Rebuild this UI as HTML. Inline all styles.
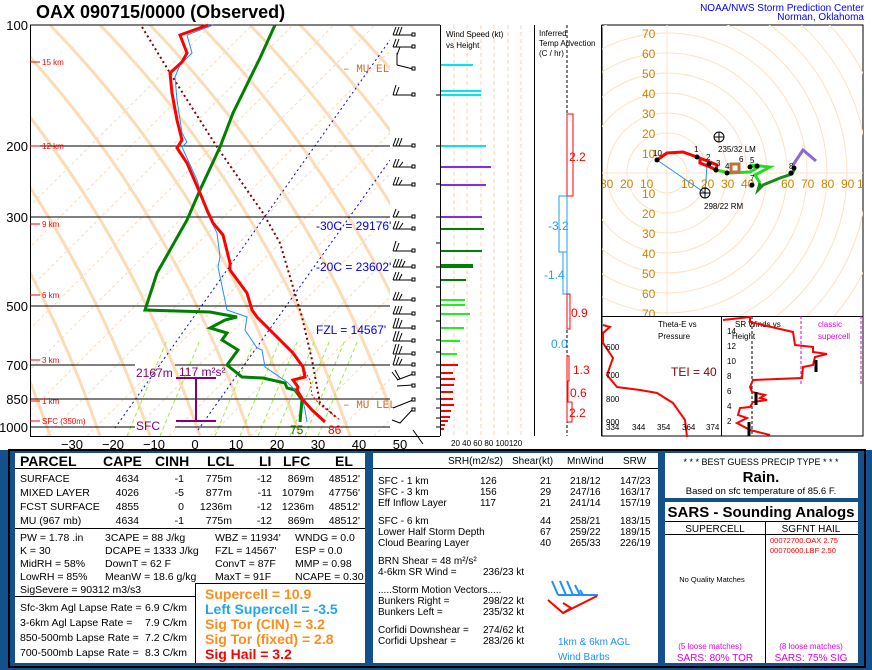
<!DOCTYPE html>
<html><head><meta charset="utf-8"><style>
body{margin:0;background:#fff;}
svg{display:block;font-family:"Liberation Sans",sans-serif;}
</style></head><body>
<svg width="872" height="670" viewBox="0 0 872 670" xmlns="http://www.w3.org/2000/svg">
<defs>
<clipPath id="skc"><rect x="30" y="25" width="360" height="411"/></clipPath>
<clipPath id="hoc"><rect x="602" y="25" width="261" height="291"/></clipPath>
</defs>
<rect width="872" height="670" fill="#fff"/>
<text x="36" y="18" font-size="18" font-weight="bold">OAX  090715/0000  (Observed)</text>
<text x="864" y="11" font-size="10" fill="#0000ff" text-anchor="end">NOAA/NWS Storm Prediction Center</text>
<text x="864" y="20" font-size="10" fill="#0000ff" text-anchor="end">Norman, Oklahoma</text>

<!-- skew-T -->
<g clip-path="url(#skc)">
<g stroke="#fcd9b0" stroke-width="3" fill="none" opacity="0.9">
<path d="M-250,25 Q-80,200 0,436"/><path d="M-200,25 Q-30,200 50,436"/><path d="M-150,25 Q20,200 100,436"/>
<path d="M-100,25 Q70,200 150,436"/><path d="M-50,25 Q120,200 200,436"/><path d="M0,25 Q170,200 250,436"/>
<path d="M50,25 Q220,200 300,436"/><path d="M100,25 Q270,200 350,436"/><path d="M150,25 Q320,200 400,436"/>
<path d="M200,25 Q370,200 450,436"/><path d="M250,25 Q420,200 500,436"/><path d="M300,25 Q470,200 550,436"/>
<path d="M350,25 Q520,200 600,436"/>
</g>
<g stroke="#fcd9b0" stroke-width="1" stroke-dasharray="3,3">
<line x1="-200" y1="436" x2="211" y2="25"/><line x1="-159" y1="436" x2="252" y2="25"/><line x1="-118" y1="436" x2="293" y2="25"/>
<line x1="-77" y1="436" x2="334" y2="25"/><line x1="-36" y1="436" x2="375" y2="25"/><line x1="5" y1="436" x2="416" y2="25"/>
<line x1="46" y1="436" x2="457" y2="25"/><line x1="87" y1="436" x2="498" y2="25"/><line x1="128" y1="436" x2="539" y2="25"/>
<line x1="169" y1="436" x2="580" y2="25"/><line x1="210" y1="436" x2="621" y2="25"/><line x1="251" y1="436" x2="662" y2="25"/>
<line x1="292" y1="436" x2="703" y2="25"/><line x1="333" y1="436" x2="744" y2="25"/><line x1="374" y1="436" x2="785" y2="25"/>
</g>
<g stroke="#99ee33" stroke-width="1" stroke-dasharray="4,3">
<line x1="127" y1="436" x2="167" y2="340"/><line x1="160" y1="436" x2="200" y2="340"/><line x1="215" y1="436" x2="255" y2="340"/>
<line x1="240" y1="436" x2="280" y2="340"/><line x1="258" y1="436" x2="298" y2="340"/><line x1="275" y1="436" x2="315" y2="340"/>
<line x1="290" y1="436" x2="330" y2="340"/><line x1="305" y1="436" x2="345" y2="340"/><line x1="318" y1="436" x2="358" y2="340"/>
</g>
<g stroke="#0000ee" stroke-width="1" stroke-dasharray="2,3">
<line x1="115" y1="428" x2="390" y2="40"/><line x1="198" y1="430" x2="390" y2="160"/>
</g>
</g>
<g stroke="#000" stroke-width="1">
<line x1="30" y1="25" x2="440" y2="25"/>
<line x1="30" y1="146" x2="390" y2="146"/><line x1="30" y1="217" x2="390" y2="217"/>
<line x1="30" y1="306" x2="390" y2="306"/><line x1="30" y1="365" x2="135" y2="365"/><line x1="175" y1="365" x2="390" y2="365"/>
<line x1="30" y1="399" x2="390" y2="399"/><line x1="30" y1="427" x2="135" y2="427"/><line x1="175" y1="427" x2="390" y2="427"/>
<line x1="30.5" y1="25" x2="30.5" y2="436"/><line x1="30" y1="436.5" x2="440" y2="436.5"/>
<line x1="440.5" y1="25" x2="440.5" y2="436"/>
</g>
<g font-size="13" text-anchor="end">
<text x="28" y="30">100</text><text x="28" y="151">200</text><text x="28" y="222">300</text><text x="28" y="311">500</text>
<text x="28" y="370">700</text><text x="28" y="404">850</text><text x="28" y="432">1000</text>
</g>
<g font-size="13" text-anchor="middle">
<text x="72" y="449">−30</text><text x="113" y="449">−20</text><text x="154" y="449">−10</text><text x="195" y="449">0</text>
<text x="236" y="449">10</text><text x="277" y="449">20</text><text x="318" y="449">30</text><text x="359" y="449">40</text><text x="400" y="449">50</text>
</g>
<g fill="#f00" font-size="8" stroke="#f00">
<line x1="30" y1="62" x2="40" y2="62"/><line x1="30" y1="146" x2="40" y2="146"/><line x1="30" y1="224" x2="40" y2="224"/>
<line x1="30" y1="295" x2="40" y2="295"/><line x1="30" y1="360" x2="40" y2="360"/><line x1="30" y1="401" x2="40" y2="401"/><line x1="30" y1="421" x2="40" y2="421"/>
</g>
<g fill="#f00" font-size="8">
<text x="42" y="65">15 km</text><text x="42" y="149">12 km</text><text x="42" y="227">9 km</text><text x="42" y="298">6 km</text>
<text x="42" y="363">3 km</text><text x="42" y="404">1 km</text><text x="42" y="424">SFC (350m)</text>
</g>
<!-- profiles -->
<polyline fill="none" stroke="#800000" stroke-width="2" stroke-dasharray="2,3" points="142,27 170,73 217,147 263,213 280,243 293,287 302,317 312,360 320,403 337,418"/>
<polyline fill="none" stroke="#008000" stroke-width="3" points="275,25 260,58 233,113 220,147 200,190 187,220 157,273 145,310 210,312 237,317 225,320 210,328 227,333 222,340 238,350 227,365 242,377 263,378 285,383 287,388 295,390 302,400 300,422"/>
<polyline fill="none" stroke="#1e90ff" stroke-width="1" points="213,25 187,35 192,53 180,65 175,77 177,100 182,133 187,142 182,147 197,180 207,213 217,233 220,257 218,267 227,310 247,317 245,330 257,348 262,350 265,367 287,382 302,397 305,410 307,422"/>
<polyline fill="none" stroke="#f00" stroke-width="3" points="208,25 180,35 187,53 182,62 170,73 172,93 177,120 182,140 177,148 187,163 200,193 207,210 213,223 223,235 230,263 230,270 247,293 252,310 257,317 280,340 293,353 303,367 305,377 293,380 298,387 297,390 303,400 312,410 325,422"/>
<polyline fill="none" stroke="#f00" stroke-width="1" stroke-dasharray="2,2" points="303,368 310,380 312,395 320,405 330,412 340,420"/>
<!-- labels -->
<g fill="#800080" stroke="#800080" stroke-width="2">
<line x1="196" y1="378" x2="196" y2="421"/><line x1="176" y1="378" x2="216" y2="378"/><line x1="176" y1="421" x2="216" y2="421"/>
</g>
<g font-size="12" fill="#800080">
<text x="136" y="377">2167m</text><text x="179" y="376">117 m²s²</text><text x="136" y="430">SFC</text>
</g>
<text x="290" y="434" font-size="12" fill="#008000">75</text>
<text x="328" y="434" font-size="12" fill="#f00">86</text>
<g font-size="11" fill="#cc6a2a" font-family="Liberation Mono,monospace">
<text x="343" y="72">– MU EL</text><text x="343" y="408">– MU LEL</text>
</g>
<g font-size="12" fill="#0000ee">
<text x="316" y="230">-30C = 29176'</text><text x="316" y="271">-20C = 23602'</text><text x="316" y="334">FZL = 14567'</text>
</g>
<!-- wind barbs -->
<g stroke="#000" stroke-width="1" fill="none">
<path d="M393,35h20 M393,35l3,-8 M396,35l3,-8 M399,35l3,-8"/><path d="M393,47h20 M393,47l3,-8 M396,47l3,-8"/>
<path d="M397,65l16,4 M397,65v-12 M397,55l3,-8"/><path d="M393,95h20 M393,95l3,-10 M396,95l3,-8"/>
<path d="M393,146h20 M393,146l3,-8 M396,146l3,-8 M399,146l3,-8"/><path d="M393,167h20 M393,167l3,-8 M396,167l3,-8 M399,167l4,-5"/>
<path d="M393,185h20 M393,185l3,-8 M396,185l3,-8 M399,185l3,-5"/><path d="M393,217h20 M393,217l3,-8 M396,217l3,-6"/>
<path d="M393,229h20 M393,229l3,-8 M396,229l3,-8 M399,229l4,-6"/><path d="M393,251h20 M393,251l3,-10 M396,251l3,-8"/>
<path d="M393,267h20 M393,267l3,-8 M396,267l3,-8 M399,267l3,-8 M402,267l3,-6"/><path d="M393,280h20 M393,280l3,-8 M396,280l3,-8 M399,280l3,-6"/>
<path d="M393,300h20 M393,300l3,-8 M396,300l3,-8 M399,300l3,-6"/><path d="M393,314h20 M393,314l3,-8 M396,314l3,-8 M399,314l3,-8"/>
<path d="M393,328h20 M393,328l3,-10 M396,328l3,-10 M399,328l3,-8"/><path d="M393,341h20 M393,341l3,-10 M396,341l3,-10 M399,341l3,-8"/>
<path d="M393,354h20 M393,354l3,-10 M396,354l3,-10 M399,354l3,-8"/><path d="M393,365h20 M393,365l3,-10 M396,365l3,-8 M399,365l3,-6"/>
<path d="M397,380l16,-6 M392,372l6,8 M395,370l5,9"/><path d="M397,386l16,-1"/>
<path d="M393,408l20,-8"/><path d="M392,420l8,3 l13,-14"/><path d="M413,430l10,14"/>
</g>
<g fill="#fff" stroke="#000" stroke-width="1">
<rect x="412" y="33" width="3" height="3"/><rect x="412" y="45" width="3" height="3"/><rect x="412" y="67" width="3" height="3"/>
<rect x="412" y="93" width="3" height="3"/><rect x="412" y="144" width="3" height="3"/><rect x="412" y="165" width="3" height="3"/>
<rect x="412" y="183" width="3" height="3"/><rect x="412" y="215" width="3" height="3"/><rect x="412" y="227" width="3" height="3"/>
<rect x="412" y="249" width="3" height="3"/><rect x="412" y="265" width="3" height="3"/><rect x="412" y="278" width="3" height="3"/>
<rect x="412" y="298" width="3" height="3"/><rect x="412" y="312" width="3" height="3"/><rect x="412" y="326" width="3" height="3"/>
<rect x="412" y="339" width="3" height="3"/><rect x="412" y="352" width="3" height="3"/><rect x="412" y="363" width="3" height="3"/>
<rect x="412" y="372" width="3" height="3"/><rect x="412" y="384" width="3" height="3"/><rect x="412" y="398" width="3" height="3"/>
<rect x="412" y="408" width="3" height="3"/>
</g>
<g stroke="#000"><line x1="436" y1="95" x2="440" y2="95"/><line x1="436" y1="146" x2="440" y2="146"/><line x1="436" y1="184" x2="440" y2="184"/>
<line x1="436" y1="217" x2="440" y2="217"/><line x1="436" y1="243" x2="440" y2="243"/><line x1="436" y1="267" x2="440" y2="267"/>
<line x1="436" y1="287" x2="440" y2="287"/><line x1="436" y1="306" x2="440" y2="306"/><line x1="436" y1="321" x2="440" y2="321"/>
<line x1="436" y1="340" x2="440" y2="340"/><line x1="436" y1="352" x2="440" y2="352"/><line x1="436" y1="365" x2="440" y2="365"/>
<line x1="436" y1="377" x2="440" y2="377"/><line x1="436" y1="388" x2="440" y2="388"/><line x1="436" y1="399" x2="440" y2="399"/>
<line x1="436" y1="408" x2="440" y2="408"/><line x1="436" y1="418" x2="440" y2="418"/><line x1="436" y1="427" x2="440" y2="427"/></g>

<!-- wind speed panel -->
<g stroke="#f5d5b0" stroke-dasharray="4,3"><line x1="454" y1="25" x2="454" y2="436"/><line x1="467" y1="25" x2="467" y2="436"/><line x1="481" y1="25" x2="481" y2="436"/><line x1="494" y1="25" x2="494" y2="436"/><line x1="508" y1="25" x2="508" y2="436"/><line x1="521" y1="25" x2="521" y2="436"/></g>
<line x1="534.5" y1="25" x2="534.5" y2="436" stroke="#000"/>
<text x="446" y="37" font-size="8">Wind Speed (kt)</text><text x="446" y="48" font-size="8">vs Height</text>
<g stroke-width="2">
<g stroke="#00e5ee"><line x1="441" y1="65" x2="473" y2="65"/><line x1="441" y1="91" x2="481" y2="91"/><line x1="441" y1="95" x2="481" y2="95"/><line x1="441" y1="146" x2="486" y2="146"/></g>
<g stroke="#8a2be2"><line x1="441" y1="167" x2="491" y2="167"/><line x1="441" y1="185" x2="486" y2="185"/><line x1="441" y1="217" x2="482" y2="217"/></g>
<g stroke="#008000"><line x1="441" y1="229" x2="484" y2="229"/><line x1="441" y1="251" x2="482" y2="251"/><line x1="441" y1="266" x2="473" y2="266" stroke-width="4"/><line x1="441" y1="280" x2="466" y2="280"/></g>
<g stroke="#22ee22"><line x1="441" y1="300" x2="465" y2="300"/><line x1="441" y1="305" x2="465" y2="305"/><line x1="441" y1="314" x2="470" y2="314"/><line x1="441" y1="328" x2="464" y2="328"/><line x1="441" y1="341" x2="460" y2="341"/><line x1="441" y1="354" x2="457" y2="354"/></g>
<g stroke="#f00"><line x1="441" y1="365" x2="458" y2="365"/><line x1="441" y1="373" x2="453" y2="373"/><line x1="441" y1="379" x2="455" y2="379"/><line x1="441" y1="385" x2="454" y2="385"/><line x1="441" y1="392" x2="453" y2="392"/><line x1="441" y1="399" x2="453" y2="399"/><line x1="441" y1="405" x2="454" y2="405"/><line x1="441" y1="411" x2="451" y2="411"/><line x1="441" y1="417" x2="450" y2="417"/><line x1="441" y1="421" x2="448" y2="421"/><line x1="441" y1="425" x2="445" y2="425"/><line x1="441" y1="429" x2="444" y2="429"/></g>
</g>
<text x="451" y="446" font-size="8">20 40 60 80 100120</text>

<!-- temp advection -->
<text x="539" y="36" font-size="8">Inferred</text><text x="539" y="46" font-size="8">Temp Advection</text><text x="539" y="56" font-size="8">(C / hr)</text>
<line x1="567" y1="25" x2="567" y2="436" stroke="#000" stroke-dasharray="3,2"/>
<g fill="none" stroke-width="1">
<rect x="567" y="114" width="6" height="82" stroke="#f00"/><rect x="559" y="196" width="8" height="56" stroke="#1ea0ee"/>
<rect x="563" y="252" width="4" height="42" stroke="#1ea0ee"/><rect x="567" y="294" width="3" height="35" stroke="#f00"/>
<rect x="567" y="356" width="2" height="25" stroke="#f00"/><rect x="567" y="381" width="1" height="21" stroke="#f00"/><rect x="567" y="402" width="5" height="20" stroke="#f00"/>
</g>
<g font-size="12"><text x="569" y="161" fill="#f00">2.2</text><text x="548" y="230" fill="#1ea0ee">-3.2</text><text x="544" y="279" fill="#1ea0ee">-1.4</text>
<text x="571" y="317" fill="#f00">0.9</text><text x="551" y="348" fill="#1ea0ee">0.0</text><text x="573" y="374" fill="#f00">1.3</text>
<text x="570" y="397" fill="#f00">0.6</text><text x="569" y="417" fill="#f00">2.2</text></g>
<line x1="601.5" y1="25" x2="601.5" y2="436" stroke="#000"/>

<!-- hodograph -->
<rect x="602" y="25" width="261" height="411" fill="none" stroke="#000"/>
<g clip-path="url(#hoc)">
<g fill="none" stroke="#fce2c4"><circle cx="667" cy="173" r="20"/><circle cx="667" cy="173" r="40"/><circle cx="667" cy="173" r="60"/><circle cx="667" cy="173" r="80"/><circle cx="667" cy="173" r="100"/><circle cx="667" cy="173" r="120"/><circle cx="667" cy="173" r="140"/><circle cx="667" cy="173" r="160"/><circle cx="667" cy="173" r="180"/><circle cx="667" cy="173" r="200"/><circle cx="667" cy="173" r="220"/></g>
<line x1="667" y1="25" x2="667" y2="316" stroke="#fce2c4"/><line x1="602" y1="173" x2="863" y2="173" stroke="#fce2c4"/>
<g font-size="12" fill="#cc8400">
<text x="642" y="38">70</text><text x="642" y="58">60</text><text x="642" y="78">50</text><text x="642" y="98">40</text><text x="642" y="118">30</text><text x="642" y="138">20</text><text x="642" y="158">10</text>
<text x="642" y="198">10</text><text x="642" y="218">20</text><text x="642" y="238">30</text><text x="642" y="258">40</text><text x="642" y="278">50</text><text x="642" y="298">60</text><text x="642" y="318">70</text>
<text x="600" y="188">30</text><text x="620" y="188">20</text><text x="640" y="188">10</text><text x="681" y="188">10</text><text x="701" y="188">20</text><text x="721" y="188">30</text><text x="741" y="188">40</text><text x="781" y="188">60</text><text x="801" y="188">70</text><text x="821" y="188">80</text><text x="841" y="188">90</text><text x="857" y="188">10</text>
</g>
<polyline fill="none" stroke="#1e90ff" points="657,160 705,193 707,165"/>
<polyline fill="none" stroke="#f00" stroke-width="3" points="657,160 667,153 683,152 697,157 710,162 717,165 716,170 710,167 700,163 700,158"/>
<polyline fill="none" stroke="#22dd22" stroke-width="3" points="716,170 730,173 750,172 757,168 750,165 770,167 755,175 760,183"/>
<polyline fill="none" stroke="#1a8a1a" stroke-width="3" points="760,183 758,190 763,185 780,178 792,174 795,168"/>
<polyline fill="none" stroke="#8a6ad0" stroke-width="3" points="793,165 803,150 816,161"/>
<g fill="#000"><circle cx="657" cy="160" r="2.5"/><circle cx="697" cy="157" r="2.5"/><circle cx="709" cy="164" r="2.5"/><circle cx="716" cy="170" r="2.5"/><circle cx="727" cy="173" r="2.5"/><circle cx="750" cy="167" r="2.5"/><circle cx="757" cy="166" r="2.5"/><circle cx="752" cy="185" r="2.5"/><circle cx="791" cy="173" r="2.5"/><circle cx="794" cy="168" r="2.5"/></g>
<g font-size="8"><text x="653" y="156">10</text><text x="694" y="152">1</text><text x="706" y="160">2</text><text x="716" y="166">3</text><text x="725" y="169">4</text><text x="750" y="163">5</text><text x="739" y="162">6</text><text x="750" y="181">7</text><text x="789" y="169">8</text></g>
<rect x="731" y="164" width="8" height="8" fill="none" stroke="#c0703a" stroke-width="3"/>
<g fill="none" stroke="#000"><circle cx="719" cy="137" r="5"/><line x1="714" y1="137" x2="724" y2="137"/><line x1="719" y1="132" x2="719" y2="142"/>
<circle cx="705" cy="193" r="5"/><line x1="700" y1="193" x2="710" y2="193"/><line x1="705" y1="188" x2="705" y2="198"/></g>
<text x="718" y="152" font-size="8">235/32 LM</text><text x="704" y="209" font-size="8">298/22 RM</text>
</g>
<line x1="602" y1="316.5" x2="863" y2="316.5" stroke="#000"/>
<line x1="721.5" y1="316" x2="721.5" y2="436" stroke="#000"/>
<!-- theta-e -->
<text x="658" y="327" font-size="8">Theta-E vs</text><text x="658" y="339" font-size="8">Pressure</text>
<polyline fill="none" stroke="#f00" stroke-width="2" points="603,325 610,327 603,333 603,343 613,358 607,375 617,387 640,390 657,393 673,403 685,420 687,437"/>
<g font-size="8"><text x="606" y="350">600</text><text x="606" y="378">700</text><text x="606" y="402">800</text><text x="606" y="425">900</text>
<text x="606" y="430">334</text><text x="632" y="430">344</text><text x="657" y="430">354</text><text x="682" y="430">364</text><text x="706" y="430">374</text></g>
<text x="671" y="376" font-size="12" fill="#800000">TEI = 40</text>
<!-- winds vs height -->
<text x="735" y="327" font-size="8">SR Winds vs</text><text x="732" y="339" font-size="8">Height</text>
<line x1="752" y1="316" x2="752" y2="436" stroke="#000" stroke-dasharray="3,2"/>
<line x1="801" y1="316" x2="801" y2="384" stroke="#d0d" stroke-dasharray="3,2"/>
<line x1="861" y1="316" x2="861" y2="384" stroke="#d0d" stroke-dasharray="3,2"/>
<text x="818" y="327" font-size="8" fill="#d0d">classic</text><text x="818" y="339" font-size="8" fill="#d0d">supercell</text>
<polyline fill="none" stroke="#f00" stroke-width="2" points="723,320 750,317 750,322 793,332 795,345 813,347 813,352 827,354 815,357 813,365 803,367 802,378 753,380 750,387 752,392 765,395 760,398 767,400 753,402 750,407 740,408 738,415 747,418 737,423 750,430 770,435"/>
<g stroke="#000" stroke-width="3"><line x1="816" y1="360" x2="816" y2="372"/><line x1="756" y1="392" x2="756" y2="405"/><line x1="749" y1="422" x2="749" y2="436"/></g>
<g font-size="8"><text x="727" y="334">14</text><text x="727" y="349">12</text><text x="727" y="364">10</text><text x="727" y="379">8</text><text x="727" y="394">6</text><text x="727" y="409">4</text><text x="727" y="424">2</text></g>

<!-- bottom panel -->
<rect x="0" y="450" width="872" height="220" fill="#14508c"/>
<rect x="9" y="450" width="856" height="217" fill="none" stroke="#000" stroke-width="2"/>
<rect x="15" y="453" width="350" height="210" fill="#fff"/>
<rect x="373" y="453" width="285" height="210" fill="#fff"/>
<rect x="665" y="453" width="193" height="45" fill="#fff"/>
<rect x="665" y="502" width="193" height="161" fill="#fff"/>
<g stroke="#000"><line x1="15" y1="468.5" x2="365" y2="468.5"/><line x1="15" y1="528.5" x2="365" y2="528.5"/><line x1="15" y1="596.5" x2="195" y2="596.5"/>
<line x1="195.5" y1="583" x2="195.5" y2="663"/><line x1="195" y1="583.5" x2="365" y2="583.5"/>
<line x1="373" y1="468.5" x2="658" y2="468.5"/>
<line x1="665" y1="521.5" x2="858" y2="521.5"/><line x1="665" y1="534.5" x2="858" y2="534.5"/><line x1="765.5" y1="521" x2="765.5" y2="663"/></g>
<g font-size="14" font-weight="bold" transform="scale(1,1)">
<text x="20" y="466">PARCEL</text><text x="103" y="466">CAPE</text><text x="155" y="466">CINH</text><text x="207" y="466">LCL</text><text x="259" y="466">LI</text><text x="283" y="466">LFC</text><text x="335" y="466">EL</text>
</g>
<g font-size="10.5">
<text x="20" y="482">SURFACE</text><text x="20" y="496">MIXED LAYER</text><text x="20" y="510">FCST SURFACE</text><text x="20" y="524">MU    (967 mb)</text>
</g>
<g font-size="10.5" text-anchor="end">
<text x="139" y="482">4634</text><text x="184" y="482">-1</text><text x="232" y="482">775m</text><text x="272" y="482">-12</text><text x="314" y="482">869m</text><text x="360" y="482">48512'</text>
<text x="139" y="496">4026</text><text x="184" y="496">-5</text><text x="232" y="496">877m</text><text x="272" y="496">-11</text><text x="314" y="496">1079m</text><text x="360" y="496">47756'</text>
<text x="139" y="510">4855</text><text x="184" y="510">0</text><text x="232" y="510">1236m</text><text x="272" y="510">-12</text><text x="314" y="510">1236m</text><text x="360" y="510">48512'</text>
<text x="139" y="524">4634</text><text x="184" y="524">-1</text><text x="232" y="524">775m</text><text x="272" y="524">-12</text><text x="314" y="524">869m</text><text x="360" y="524">48512'</text>
</g>
<g font-size="10.5">
<text x="20" y="541">PW = 1.78 .in</text><text x="105" y="541">3CAPE = 88 J/kg</text><text x="215" y="541">WBZ = 11934'</text><text x="295" y="541">WNDG = 0.0</text>
<text x="20" y="554">K = 30</text><text x="105" y="554">DCAPE = 1333 J/kg</text><text x="215" y="554">FZL = 14567'</text><text x="295" y="554">ESP = 0.0</text>
<text x="20" y="567">MidRH = 58%</text><text x="105" y="567">DownT = 62 F</text><text x="215" y="567">ConvT = 87F</text><text x="295" y="567">MMP = 0.98</text>
<text x="20" y="580">LowRH = 85%</text><text x="105" y="580">MeanW = 18.6 g/kg</text><text x="215" y="580">MaxT = 91F</text><text x="295" y="580">NCAPE = 0.30</text>
<text x="20" y="593">SigSevere = 90312 m3/s3</text>
<text x="20" y="611">Sfc-3km Agl Lapse Rate =</text><text x="145" y="611">6.9 C/km</text>
<text x="20" y="626">3-6km Agl Lapse Rate =</text><text x="145" y="626">7.9 C/km</text>
<text x="20" y="641">850-500mb Lapse Rate =</text><text x="145" y="641">7.2 C/km</text>
<text x="20" y="656">700-500mb Lapse Rate =</text><text x="145" y="656">8.3 C/km</text>
</g>
<g font-size="14" font-weight="bold">
<text x="205" y="599" fill="#ff8c1a">Supercell = 10.9</text>
<text x="205" y="614" fill="#1ea8e8">Left Supercell = -3.5</text>
<text x="205" y="629" fill="#ff8c1a">Sig Tor (CIN) = 3.2</text>
<text x="205" y="644" fill="#ff8c1a">Sig Tor (fixed) = 2.8</text>
<text x="205" y="659" fill="#f00">Sig Hail = 3.2</text>
</g>
<!-- middle -->
<g font-size="10">
<text x="448" y="464">SRH(m2/s2)</text><text x="512" y="464">Shear(kt)</text><text x="567" y="464">MnWind</text><text x="623" y="464">SRW</text>
<text x="378" y="484">SFC - 1 km</text><text x="378" y="495">SFC - 3 km</text><text x="378" y="506">Eff Inflow Layer</text>
<text x="378" y="524">SFC - 6 km</text><text x="378" y="535">Lower Half Storm Depth</text><text x="378" y="546">Cloud Bearing Layer</text>
<text x="378" y="564">BRN Shear =  48 m²/s²</text><text x="378" y="575">4-6km SR Wind =</text><text x="483" y="575">236/23 kt</text>
<text x="378" y="593">.....Storm Motion Vectors.....</text>
<text x="378" y="604">Bunkers Right =</text><text x="483" y="604">298/22 kt</text>
<text x="378" y="615">Bunkers Left =</text><text x="483" y="615">235/32 kt</text>
<text x="378" y="633">Corfidi Downshear =</text><text x="483" y="633">274/62 kt</text>
<text x="378" y="644">Corfidi Upshear =</text><text x="483" y="644">283/26 kt</text>
<text x="480" y="484">126</text><text x="540" y="484">21</text><text x="570" y="484">218/12</text><text x="620" y="484">147/23</text>
<text x="480" y="495">156</text><text x="540" y="495">29</text><text x="570" y="495">247/16</text><text x="620" y="495">163/17</text>
<text x="480" y="506">117</text><text x="540" y="506">21</text><text x="570" y="506">241/14</text><text x="620" y="506">157/19</text>
<text x="540" y="524">44</text><text x="570" y="524">258/21</text><text x="620" y="524">183/15</text>
<text x="540" y="535">67</text><text x="570" y="535">259/22</text><text x="620" y="535">189/15</text>
<text x="540" y="546">40</text><text x="570" y="546">265/33</text><text x="620" y="546">226/19</text>
<text x="558" y="645" fill="#1e90ff">1km &amp; 6km AGL</text><text x="558" y="660" fill="#1e90ff">Wind Barbs</text>
</g>
<g fill="none" stroke-width="2">
<path d="M598,595 H558 M552,581 l6,14 M560,581 l6,14 M567,581 l6,14 M575,585 l5,10 M580,590 l3,5" stroke="#1e90ff"/>
<path d="M597,596 L563,613 L548,600 M563,613 l8,-5 L563,603" stroke="#f00"/>
</g>
<!-- right -->
<g text-anchor="middle">
<text x="761" y="465" font-size="9">* * * BEST GUESS PRECIP TYPE * * *</text>
<text x="761" y="482" font-size="15" font-weight="bold">Rain.</text>
<text x="761" y="494" font-size="9.5">Based on sfc temperature of 85.6 F.</text>
<text x="761" y="517" font-size="15" font-weight="bold">SARS - Sounding Analogs</text>
<text x="715" y="532" font-size="10">SUPERCELL</text><text x="811" y="532" font-size="10">SGFNT HAIL</text>
<text x="712" y="582" font-size="7.5">No Quality Matches</text>
<text x="710" y="649" font-size="8" fill="#e000e0">(5 loose matches)</text><text x="811" y="649" font-size="8" fill="#e000e0">(8 loose matches)</text>
<text x="715" y="661" font-size="10" fill="#e000e0">SARS:  80% TOR</text><text x="811" y="661" font-size="10" fill="#e000e0">SARS:  75% SIG</text>
</g>
<g font-size="7.5" fill="#f00"><text x="770" y="543">00072700.OAX  2.75</text><text x="770" y="553">00070600.LBF  2.50</text></g>
</svg>
</body></html>
